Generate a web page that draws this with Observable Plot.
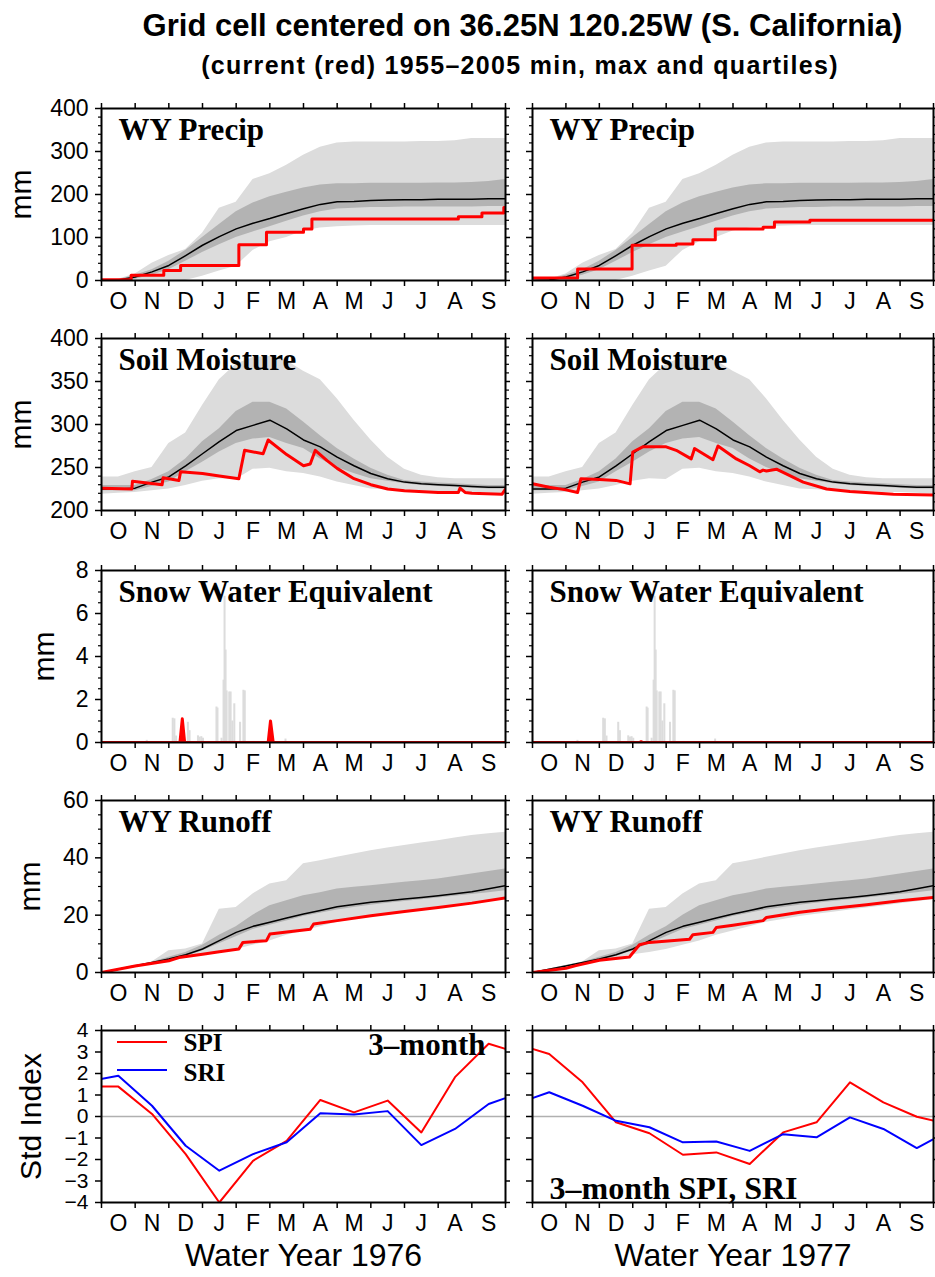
<!DOCTYPE html>
<html>
<head>
<meta charset="utf-8">
<script src="https://cdn.jsdelivr.net/npm/d3@7"></script>
<script src="https://cdn.jsdelivr.net/npm/@observablehq/plot@0.6"></script>
<style>
  body { margin: 0; background: white; }
  #root { position: relative; width: 935px; height: 1277px; overflow: hidden; background: white; }
  .ttl { position: absolute; text-align: center; font-family: 'Liberation Sans', Arial, Helvetica, sans-serif; font-weight: bold; color: #000; white-space: nowrap; }
</style>
</head>
<body>
<div id="root">
  <div class="ttl" id="title" style="top:8px; left:110px; width:825px; font-size:31px; line-height:36px;">Grid cell centered on 36.25N 120.25W (S. California)</div>
  <div class="ttl" id="subtitle" style="top:50px; left:105px; width:830px; font-size:25px; line-height:30px; letter-spacing:1.3px;">(current (red) 1955–2005 min, max and quartiles)</div>
</div>
<script>
// ---------------- DATA ----------------
const monthLabels = ["O","N","D","J","F","M","A","M","J","J","A","S"];
const monthTicks = [0,1,2,3,4,5,6,7,8,9,10,11,12];
const monthMid = [0.5,1.5,2.5,3.5,4.5,5.5,6.5,7.5,8.5,9.5,10.5,11.5];
const years = ["Water Year 1976", "Water Year 1977"];

// climatology grid (months since Oct 1)
const climX = [0,0.5,1,1.5,2,2.5,3,3.5,4,4.5,5,5.5,6,6.5,7,7.5,8,8.5,9,9.5,10,10.5,11,11.5,12];

// WY Precip climatology (mm)
const precipMin = [0,0,0,0,0,0,10,22,33,70,90,100,115,122,125,127,128,128,128,128,128,128,128,128,128];
const precipQ1  = [0,0,3,12,25,45,65,83,100,113,125,138,150,160,166,168,170,170,171,171,171,171,171,172,172];
const precipMed = [0,1,8,20,35,58,82,102,120,133,144,156,167,177,183,184,186,187,188,188,189,189,189,190,190];
const precipQ3  = [0,2,12,25,45,70,100,130,160,180,195,205,215,222,225,225,226,226,226,226,227,227,228,230,235];
const precipMax = [0,3,15,40,58,72,110,168,182,235,248,268,291,310,320,322,322,322,322,323,323,325,330,330,330];
// current precip [month, mm] (step-after)
const precip1976 = [[0,2],[0.88,12],[1.85,23],[2.35,35],[4.08,83],[4.9,112],[6.0,120],[6.25,143],[10.6,148],[11.3,157],[11.95,170],[12,170]];
const precip1977 = [[0,6],[1.35,27],[2.98,82],[4.3,85],[4.8,95],[5.47,120],[6.9,124],[7.24,136],[8.3,140],[12,140]];

// Soil moisture climatology (mm)
const soilMin = [219,220,221,223,225,229,234,237,236,248,249,245,243,239,233,229,225,224,223,222,222,221,221,220,219];
const soilQ1  = [223,223,223,228,233,245,256,268,278,283,285,278,272,260,250,243,237,234,231,229,228,227,226,225,225];
const soilMed = [225,225,226,233,239,252,266,280,293,299,305,295,282,274,262,252,243,237,233,231,230,229,228,227,227];
const soilQ3  = [229,229,229,236,245,260,280,295,315,326,326,318,303,287,272,260,249,241,235,233,232,231,230,229,229];
const soilMax = [239,239,245,250,278,290,322,352,370,378,379,374,362,352,330,305,282,262,248,241,238,237,237,237,237];
const soil1976 = [[0,226],[0.9,225],[0.92,234],[1.8,230],[1.83,238],[2.3,235],[2.35,245],[3.0,243],[3.5,240],[4.08,237],[4.25,270],[4.8,266],[4.95,282],[5.5,265],[6.0,252],[6.2,254],[6.35,270],[6.7,258],[7.0,249],[7.5,237],[8.0,230],[8.5,225],[9.0,223],[10.0,221],[10.6,221],[10.65,226],[10.8,221],[11.0,220],[11.9,219],[12,225]];
const soil1977 = [[0,231],[0.5,227],[1.0,224],[1.35,221],[1.45,237],[2.0,236],[2.5,235],[2.92,231],[3.0,268],[3.3,274],[4.0,274],[4.3,270],[4.75,260],[4.85,272],[5.4,259],[5.55,275],[6.1,260],[6.5,252],[6.8,245],[6.9,247],[7.0,246],[7.3,248],[8.1,233],[8.8,225],[9.5,222],[10.8,219],[12,218]];

// Snow water equivalent: 1955-2005 daily max spikes [month, mm]
const sweClimMax = [[1.33,0.1],[2.1,1.13],[2.15,1.1],[2.2,0.3],[2.55,0.94],[2.6,0.55],[2.85,0.31],[2.9,0.25],[2.95,0.27],[3.0,0.2],[3.4,1.65],[3.43,1.6],[3.55,0.2],[3.61,2.9],[3.64,6.8],[3.67,4.3],[3.7,2.4],[3.78,2.35],[3.82,2.35],[3.87,1.0],[3.93,1.8],[4.1,0.94],[4.2,2.43],[4.24,2.4],[4.5,0.05],[5.45,0.16]];
const swe1976 = [[0,0],[2.33,0],[2.4,1.1],[2.47,0],[4.95,0],[5.02,1.0],[5.1,0],[12,0]];
const swe1977 = [[0,0],[3.2,0],[3.25,0.04],[3.3,0],[12,0]];

// WY Runoff climatology (mm)
const runMin = [0,1.0,2.1,3.1,4.0,5.0,6.2,7.0,8.0,9.5,11,13,14.5,16,17.5,18.5,19.5,20.3,21,21.8,22.5,23.2,24,24.7,25.5];
const runQ1  = [0,1.0,2.2,3.3,4.2,5.6,7.5,10,12.5,15,16.5,18,19.5,20.7,21.8,22.7,23.5,24.2,24.8,25.4,26,26.6,27.2,27.8,28.5];
const runMed = [0,1.1,2.3,3.5,4.7,6.2,8.2,11.1,14.0,16.1,17.5,19.0,20.4,21.6,22.9,23.7,24.5,25.0,25.6,26.2,26.8,27.5,28.2,29.2,30.3];
const runQ3  = [0,1.2,2.4,3.6,5.3,7.0,9.5,13,16,20,23.3,25,26.8,27.8,29.1,29.7,30.3,30.9,31.5,32.0,32.6,33.5,34.4,35.2,36.1];
const runMax = [0,1.2,2.4,3.7,7.6,8.2,9.9,22.1,22.7,27.4,30.9,32.0,37.9,39.0,40.2,41.3,42.5,43.4,44.3,45.2,46.0,46.9,47.8,48.4,48.9];
const run1976 = [[0,0],[1,2.3],[2,4.1],[2.3,5.2],[3,6.4],[3.5,7.2],[4.08,8.2],[4.2,10.5],[4.9,11.1],[5.0,13.4],[6.2,15.1],[6.3,16.9],[7,18.1],[8,19.8],[9,21.3],[10,22.7],[11,24.2],[12,26.0]];
const run1977 = [[0,0],[1,1.5],[1.3,2.4],[2,4.3],[2.9,5.4],[3.2,9.7],[3.5,10.5],[4.7,11.6],[4.8,13.2],[5.4,14.0],[5.5,15.7],[6,16.5],[6.9,18.1],[7,19.2],[8,21],[9,22.4],[10,23.6],[11,25],[12,26.2]];

// 3-month SPI / SRI (monthly, Oct..Sep)
const spiSep1975 = 1.39, sriSep1975 = 1.6;
const spi1976 = [1.39,0.12,-1.75,-4.0,-2.06,-1.13,0.77,0.19,0.74,-0.74,1.83,3.38];
const sri1976 = [1.9,0.5,-1.36,-2.52,-1.75,-1.2,0.15,0.09,0.25,-1.33,-0.58,0.58];
const spi1977 = [2.91,1.59,-0.27,-0.78,-1.78,-1.67,-2.21,-0.74,-0.27,1.59,0.66,-0.01];
const sri1977 = [1.13,0.5,-0.2,-0.5,-1.2,-1.16,-1.6,-0.82,-0.97,-0.04,-0.58,-1.47];
const spiOct1977 = -0.37, sriOct1977 = -0.63;

// axis ticks
const precipTicks = [0,100,200,300,400];
const soilTicks = [200,250,300,350,400];
const sweTicks = [0,2,4,6,8];
const runTicks = [0,20,40,60];
const stdTicks = [-4,-3,-2,-1,0,1,2,3,4];

// ---------------- STYLE ----------------
const SANS = "'Liberation Sans', Arial, Helvetica, sans-serif";
const SERIF = "'Liberation Serif', 'Times New Roman', Times, serif";
const LIGHT = "#dcdcdc", DARK = "#b3b3b3";
const frameTops = [108, 338, 570, 800, 1030];
const FRAME_H = 172;
const root = document.getElementById("root");

function minorOf(domain, step, majors) {
  return d3.range(domain[0], domain[1] + step / 2, step).filter(v => !majors.some(m => Math.abs(m - v) < 1e-9));
}
const minusFmt = d => (d < 0 ? "\u2212" + (-d) : String(d));

function bands(lo, q1, med, q3, hi) {
  return [
    Plot.areaY(climX, {x: d => d, y1: (d, i) => lo[i], y2: (d, i) => hi[i], fill: LIGHT, clip: true}),
    Plot.areaY(climX, {x: d => d, y1: (d, i) => q1[i], y2: (d, i) => q3[i], fill: DARK, clip: true}),
    Plot.line(climX, {x: d => d, y: (d, i) => med[i], stroke: "black", strokeWidth: 1.5, clip: true})
  ];
}

function panel(cfg) {
  const {col, row, yDomain, yMajor, yMinor, marks, label, yLabel, yLabelX, extra = [], yFont = 23} = cfg;
  const left = col === 0;
  const mL = left ? 101 : 22, mR = left ? 5 : 2;
  const W = left ? 510 : 425;
  const mT = 12, mB = row === 4 ? 75 : 45;
  const H = mT + FRAME_H + mB;
  const axisMarks = [
    Plot.frame({stroke: "black", strokeWidth: 2}),
    Plot.axisX(monthTicks, {anchor: "bottom", tickSize: 6, strokeWidth: 1.5, tickFormat: () => "", label: null}),
    Plot.axisX(monthTicks, {anchor: "top", tickSize: 6, strokeWidth: 1.5, tickFormat: () => "", label: null}),
    Plot.axisX(monthMid, {anchor: "bottom", tickSize: 0, tickPadding: 12, tickFormat: d => monthLabels[Math.floor(d)], label: null}),
    Plot.axisY(yMajor, {anchor: "left", tickSize: 6, tickPadding: 7, strokeWidth: 1.5, fontSize: yFont, tickFormat: left ? minusFmt : () => "", label: null}),
    Plot.axisY(yMajor, {anchor: "right", tickSize: 6, strokeWidth: 1.5, tickFormat: () => "", label: null})
  ];
  if (yMinor.length) {
    axisMarks.push(Plot.axisY(yMinor, {anchor: "left", tickSize: 3, strokeWidth: 1.2, tickFormat: () => "", label: null}));
    axisMarks.push(Plot.axisY(yMinor, {anchor: "right", tickSize: 3, strokeWidth: 1.2, tickFormat: () => "", label: null}));
  }
  const texts = [];
  if (label) {
    texts.push(Plot.text([label], {text: d => d, frameAnchor: "top-left", dx: 17, dy: 9, lineAnchor: "top", textAnchor: "start",
      fontFamily: SERIF, fontWeight: "bold", fontSize: 31, fill: "black"}));
  }
  if (left && yLabel) {
    texts.push(Plot.text([yLabel], {text: d => d, frameAnchor: "left", dx: yLabelX - mL, rotate: -90, lineAnchor: "middle",
      textAnchor: "middle", fontFamily: SANS, fontSize: 30, fill: "black"}));
  }
  if (row === 4) {
    texts.push(Plot.text([years[col]], {text: d => d, frameAnchor: "bottom", dy: 53, lineAnchor: "middle",
      textAnchor: "middle", fontFamily: SANS, fontSize: 32, fill: "black"}));
  }
  const svg = Plot.plot({
    width: W, height: H, marginLeft: mL, marginRight: mR, marginTop: mT, marginBottom: mB,
    x: {domain: [0, 12]},
    y: {domain: yDomain},
    style: {fontFamily: SANS, fontSize: "23px", background: "transparent", color: "black"},
    marks: [...marks, ...axisMarks, ...texts, ...extra]
  });
  svg.style.position = "absolute";
  svg.style.left = (left ? 0 : 510) + "px";
  svg.style.top = (frameTops[row] - mT) + "px";
  svg.style.maxWidth = "none";
  root.appendChild(svg);
}

const redLine = (data, curve = "linear") =>
  Plot.line(data, {x: d => d[0], y: d => d[1], stroke: "#ff0000", strokeWidth: 3, curve, clip: true});

// Row 0: precip
[precip1976, precip1977].forEach((cur, col) => panel({
  col, row: 0, yDomain: [0, 400], yMajor: precipTicks, yMinor: minorOf([0, 400], 20, precipTicks),
  label: "WY Precip", yLabel: "mm", yLabelX: 21,
  marks: [...bands(precipMin, precipQ1, precipMed, precipQ3, precipMax), redLine(cur, "step-after")]
}));

// Row 1: soil moisture
[soil1976, soil1977].forEach((cur, col) => panel({
  col, row: 1, yDomain: [200, 400], yMajor: soilTicks, yMinor: minorOf([200, 400], 10, soilTicks),
  label: "Soil Moisture", yLabel: "mm", yLabelX: 21,
  marks: [...bands(soilMin, soilQ1, soilMed, soilQ3, soilMax), redLine(cur)]
}));

// Row 2: SWE
[swe1976, swe1977].forEach((cur, col) => panel({
  col, row: 2, yDomain: [0, 8], yMajor: sweTicks, yMinor: minorOf([0, 8], 0.5, sweTicks),
  label: "Snow Water Equivalent", yLabel: "mm", yLabelX: 44,
  marks: [
    Plot.rectY(sweClimMax, {x1: d => d[0], x2: d => d[0] + 0.06, y1: 0, y2: d => d[1], fill: LIGHT, clip: true}),
    Plot.areaY(cur, {x: d => d[0], y: d => d[1], fill: "#ff0000", clip: true}),
    redLine(cur)
  ]
}));

// Row 3: runoff
[run1976, run1977].forEach((cur, col) => panel({
  col, row: 3, yDomain: [0, 60], yMajor: runTicks, yMinor: minorOf([0, 60], 5, runTicks),
  label: "WY Runoff", yLabel: "mm", yLabelX: 30,
  marks: [...bands(runMin, runQ1, runMed, runQ3, runMax), redLine(cur)]
}));

// Row 4: std index
const stdX = [-0.5, ...monthMid, 12.5];
const spiSeries = [[spiSep1975, ...spi1976, spi1977[0]], [spi1976[11], ...spi1977, spiOct1977]];
const sriSeries = [[sriSep1975, ...sri1976, sri1977[0]], [sri1976[11], ...sri1977, sriOct1977]];

function legendSwatches(index, scales, values, dims) {
  const g = d3.create("svg:g");
  const x0 = dims.marginLeft, y0 = dims.marginTop;
  [["#ff0000", 12], ["#0000ff", 40]].forEach(([c, off]) => {
    g.append("line").attr("x1", x0 + 16).attr("x2", x0 + 66).attr("y1", y0 + off).attr("y2", y0 + off)
      .attr("stroke", c).attr("stroke-width", 2);
  });
  return g.node();
}
const serifBold = {fontFamily: SERIF, fontWeight: "bold", fill: "black", lineAnchor: "middle"};

[0, 1].forEach(col => panel({
  col, row: 4, yDomain: [-4, 4], yMajor: stdTicks, yMinor: [], yFont: 21,
  label: null, yLabel: "Std Index", yLabelX: 31,
  marks: [
    Plot.ruleY([0], {stroke: "#b0b0b0", strokeWidth: 1.5}),
    Plot.line(stdX, {x: d => d, y: (d, i) => spiSeries[col][i], stroke: "#ff0000", strokeWidth: 2, clip: true}),
    Plot.line(stdX, {x: d => d, y: (d, i) => sriSeries[col][i], stroke: "#0000ff", strokeWidth: 2, clip: true})
  ],
  extra: col === 0 ? [
    legendSwatches,
    Plot.text(["SPI"], {text: d => d, frameAnchor: "top-left", dx: 82, dy: 12, textAnchor: "start", fontSize: 25, ...serifBold}),
    Plot.text(["SRI"], {text: d => d, frameAnchor: "top-left", dx: 82, dy: 42, textAnchor: "start", fontSize: 25, ...serifBold}),
    Plot.text(["3\u2013month"], {text: d => d, frameAnchor: "top-right", dx: -20, dy: 15, textAnchor: "end", fontSize: 31, ...serifBold})
  ] : [
    Plot.text(["3\u2013month SPI, SRI"], {text: d => d, frameAnchor: "bottom-left", dx: 17, dy: -14, textAnchor: "start", fontSize: 32, ...serifBold})
  ]
}));
</script>
</body>
</html>
